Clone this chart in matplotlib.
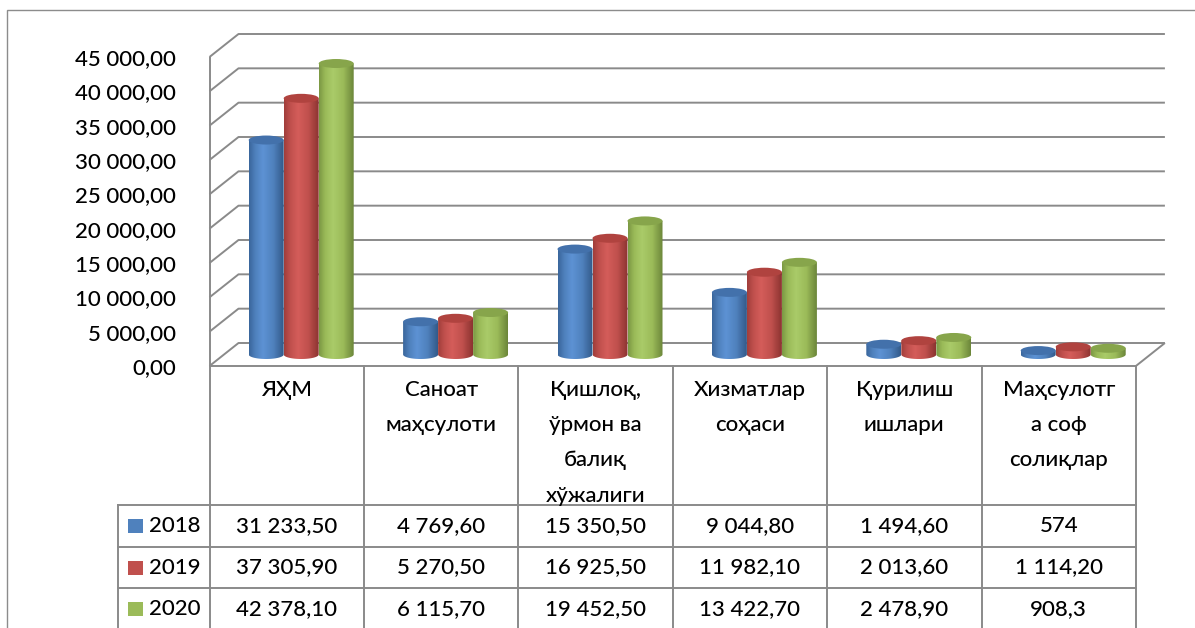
import numpy as np
import matplotlib.pyplot as plt
from matplotlib.patches import Ellipse, PathPatch, Rectangle
from matplotlib.path import Path
from matplotlib.colors import LinearSegmentedColormap

plt.rcParams['font.family'] = ['Lato', 'Open Sans', 'DejaVu Sans']
plt.rcParams['font.weight'] = 'medium'

# data (table strings as shown in the source; bar heights are parsed from them)
categories = ["ЯҲМ", "Саноат\nмаҳсулоти", "Қишлоқ,\nўрмон ва\nбалиқ\nхўжалиги",
              "Хизматлар\nсоҳаси", "Қурилиш\nишлари", "Маҳсулотг\nа соф\nсолиқлар"]
years = ["2018", "2019", "2020"]
table_2018 = ["31 233,50", "4 769,60", "15 350,50", "9 044,80", "1 494,60", "574"]
table_2019 = ["37 305,90", "5 270,50", "16 925,50", "11 982,10", "2 013,60", "1 114,20"]
table_2020 = ["42 378,10", "6 115,70", "19 452,50", "13 422,70", "2 478,90", "908,3"]
y_ticks = [0, 5000, 10000, 15000, 20000, 25000, 30000, 35000, 40000, 45000]


def to_number(s):
    return float(s.replace(" ", "").replace(",", "."))


def fmt_tick(v):
    return f"{v:,.2f}".replace(",", " ").replace(".", ",")


rows = [table_2018, table_2019, table_2020]
values = [[to_number(s) for s in r] for r in rows]

# colours: (left edge, main, highlight, right edge, top)
palettes = [
    ("#3a669c", "#4f81bd", "#5d92d4", "#335a8a", "#4371ab"),
    ("#a13e3b", "#c0504d", "#d45d5a", "#8c3431", "#b0433f"),
    ("#7c9944", "#9bbb59", "#aacb69", "#6c863a", "#87a54b"),
]
key_colors = ["#4f81bd", "#c0504d", "#9bbb59"]
grid_color = "#8a8a8a"

# layout in pixels
W, H = 1195, 628
CAT = 154.4            # px per category
X0 = 209.5             # front-left x of floor
FLOOR_Y = 366          # front floor y
DEPTH_X, DEPTH_Y = 29, 23
VAL_PX = 309 / 45000   # px per value unit
CYL_W = 35 / CAT
ELL_H = 9 / VAL_PX

fig = plt.figure(figsize=(W / 100, H / 100), dpi=100)


def px_axes(x0, y0, x1, y1):
    return fig.add_axes([x0 / W, 1 - y1 / H, (x1 - x0) / W, (y1 - y0) / H])


dxd = DEPTH_X / CAT
dyd = DEPTH_Y / VAL_PX
ax = px_axes(X0, FLOOR_Y - 45000 * VAL_PX - DEPTH_Y, X0 + 6 * CAT + DEPTH_X, FLOOR_Y)
ax.patch.set_visible(False)
for s in ax.spines.values():
    s.set_visible(False)

# 3D walls / gridlines
lkw = dict(color=grid_color, lw=1.4, clip_on=False, solid_capstyle='butt', zorder=1)
for v in y_ticks:
    ax.plot([-0.5, -0.5 + dxd, 5.5 + dxd], [v, v + dyd, v + dyd], **lkw)
ax.plot([-0.5, -0.5], [0, y_ticks[-1]], **lkw)
ax.plot([-0.5, 5.5, 5.5 + dxd], [0, 0, dyd], **lkw)


def draw_cylinder(xc, base, top, pal, z):
    left, main, light, right, top_c = pal
    cmap = LinearSegmentedColormap.from_list(
        "c", [(0, left), (0.18, main), (0.4, light), (0.7, main), (1, right)])
    t = np.linspace(np.pi, 2 * np.pi, 40)
    verts = [(xc - CYL_W / 2, top)]
    verts += list(zip(xc + CYL_W / 2 * np.cos(t), base + ELL_H / 2 * np.sin(t)))
    verts += [(xc + CYL_W / 2, top), (xc - CYL_W / 2, top)]
    clip = PathPatch(Path(verts, closed=True), facecolor='none', edgecolor='none')
    ax.add_patch(clip)
    grad = np.linspace(0, 1, 64).reshape(1, -1)
    im = ax.imshow(grad, cmap=cmap, extent=[xc - CYL_W / 2, xc + CYL_W / 2, base - ELL_H / 2, top],
                   aspect='auto', origin='lower', zorder=z, interpolation='bilinear')
    im.set_clip_path(clip)
    ax.add_patch(Ellipse((xc, top), CYL_W, ELL_H, facecolor=top_c, edgecolor='none', zorder=z + 0.001))


z = 3
for i in range(len(categories)):
    for j, vals in enumerate(values):
        xc = i + dxd / 2 + (j - 1) * CYL_W
        draw_cylinder(xc, dyd / 2, dyd / 2 + vals[i], palettes[j], z)
        z += 0.01

ax.set_xlim(-0.5, 5.5 + dxd)
ax.set_ylim(0, 45000 + dyd)
ax.set_xticks([])
ax.set_yticks(y_ticks, [fmt_tick(v) for v in y_ticks])
ax.tick_params(axis='y', length=0, pad=24, labelsize=16)

# data table
ROW_H = [139, 41.7, 41.7, 41.7]
LABEL_W = 91.5 / CAT
XL = -0.5 - LABEL_W
tax = px_axes(X0 - 91.5, FLOOR_Y, X0 + 6 * CAT, FLOOR_Y + sum(ROW_H))
tax.set_xlim(XL, 5.5)
tax.set_ylim(sum(ROW_H), 0)
tax.axis('off')
edges = np.cumsum([0] + ROW_H)
tkw = dict(color=grid_color, lw=1.4, clip_on=False, solid_capstyle='projecting')
for k in range(7):
    tax.plot([-0.5 + k, -0.5 + k], [0, edges[-1]], **tkw)
tax.plot([XL, XL], [edges[1], edges[-1]], **tkw)
for e in edges[1:]:
    tax.plot([XL, 5.5], [e, e], **tkw)

for i, c in enumerate(categories):
    tax.text(i, 14, c, ha='center', va='top', fontsize=16, linespacing=1.95)

for r, (yr, row) in enumerate(zip(years, rows)):
    yc = (edges[r + 1] + edges[r + 2]) / 2
    tax.add_patch(Rectangle((XL + 10 / CAT, yc - 7), 15 / CAT, 14,
                            facecolor=key_colors[r], edgecolor='none', clip_on=False))
    tax.text(XL + 31 / CAT, yc, yr, ha='left', va='center', fontsize=16)
    for i, s in enumerate(row):
        tax.text(i, yc, s, ha='center', va='center', fontsize=16)

# outer chart border
fig.add_artist(Rectangle((7 / W, -1), 2, 2 - 10 / H, transform=fig.transFigure,
                         fill=False, edgecolor='#8c8c8c', lw=1))

fig.savefig("out.png", dpi=100)
